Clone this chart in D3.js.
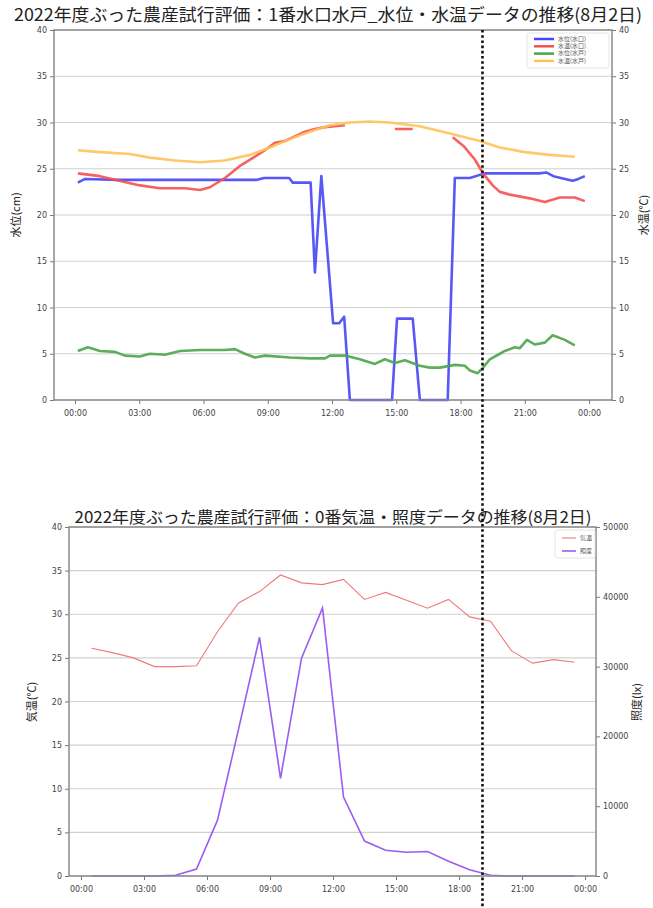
<!DOCTYPE html>
<html>
<head>
<meta charset="utf-8">
<script src="https://cdn.jsdelivr.net/npm/d3@7"></script>
<style>
body { margin: 0; background: #fff; }
svg { display: block; }
</style>
</head>
<body>
<div id="chart"></div>
<script>
// ---- data ----
var topTitle = '2022年度ぶった農産試行評価：1番水口水戸_水位・水温データの推移(8月2日)';
var bottomTitle = '2022年度ぶった農産試行評価：0番気温・照度データの推移(8月2日)';
var topLegend = ['水位(水口)', '水温(水口)', '水位(水戸)', '水温(水戸)'];
var bottomLegend = ['気温', '照度'];
var yTicks = [0, 5, 10, 15, 20, 25, 30, 35, 40];
var luxTicks = [0, 10000, 20000, 30000, 40000, 50000];
var markerTime = '19:00';

// 水位(水口) - blue
var levelInTimes = ['00:08', '00:28', '02:00', '05:00', '08:30', '08:50', '10:00', '10:10', '11:00', '11:12', '11:30', '12:03', '12:20', '12:34', '12:50', '14:48', '15:02', '15:46', '16:06', '17:24', '17:44', '18:26', '19:08', '21:40', '22:00', '22:20', '23:14', '23:30', '23:48'];
var levelInValues = [23.5, 23.9, 23.8, 23.8, 23.8, 24.0, 24.0, 23.5, 23.5, 13.8, 24.2, 8.3, 8.3, 9.0, 0, 0, 8.8, 8.8, 0, 0, 24.0, 24.0, 24.5, 24.5, 24.6, 24.2, 23.7, 23.9, 24.2];

// 水温(水口) - red (null = missing)
var tempInTimes = ['00:08', '01:10', '01:52', '03:02', '03:58', '05:08', '05:50', '06:18', '07:00', '07:42', '08:24', '08:52', '09:20', '09:48', '10:16', '10:44', '11:12', '11:40', '12:36', '12:40', '14:56', '15:46', '15:50', '17:38', '18:10', '18:40', '19:03', '19:30', '19:50', '20:18', '21:14', '21:56', '22:38', '23:20', '23:48'];
var tempInValues = [24.5, 24.2, 23.8, 23.2, 22.9, 22.9, 22.7, 23.0, 24.0, 25.3, 26.3, 27.0, 27.8, 28.0, 28.5, 29.0, 29.3, 29.5, 29.7, null, 29.3, 29.3, null, 28.4, 27.4, 26.0, 24.5, 23.2, 22.5, 22.2, 21.8, 21.4, 21.9, 21.9, 21.5];

// 水位(水戸) - green
var levelOutTimes = ['00:08', '00:36', '01:10', '01:52', '02:20', '03:02', '03:30', '04:12', '04:54', '05:50', '07:00', '07:28', '07:56', '08:24', '08:52', '10:02', '10:58', '11:40', '11:54', '12:36', '13:18', '14:00', '14:28', '14:56', '15:24', '16:06', '16:34', '17:02', '17:44', '18:12', '18:26', '18:48', '19:03', '19:22', '19:50', '20:04', '20:32', '20:46', '21:06', '21:28', '21:56', '22:18', '22:52', '23:20'];
var levelOutValues = [5.3, 5.7, 5.3, 5.2, 4.8, 4.7, 5.0, 4.9, 5.3, 5.4, 5.4, 5.5, 5.0, 4.6, 4.8, 4.6, 4.5, 4.5, 4.8, 4.8, 4.4, 3.9, 4.4, 4.0, 4.3, 3.7, 3.5, 3.5, 3.8, 3.7, 3.2, 2.9, 3.5, 4.4, 5.0, 5.3, 5.7, 5.6, 6.5, 6.0, 6.2, 7.0, 6.5, 5.9];

// 水温(水戸) - orange
var tempOutTimes = ['00:08', '01:10', '02:34', '03:30', '04:40', '05:50', '07:00', '08:10', '09:06', '10:02', '10:58', '11:54', '12:50', '13:46', '14:42', '16:06', '17:30', '18:54', '19:50', '21:00', '22:10', '23:20'];
var tempOutValues = [27.0, 26.8, 26.6, 26.2, 25.9, 25.7, 25.9, 26.5, 27.3, 28.2, 29.0, 29.7, 30.0, 30.1, 30.0, 29.6, 28.8, 28.0, 27.3, 26.8, 26.5, 26.3];

// 気温 / 照度 (hourly)
var airTimes = ['00:30', '01:30', '02:30', '03:30', '04:30', '05:30', '06:30', '07:30', '08:30', '09:30', '10:30', '11:30', '12:30', '13:30', '14:30', '15:30', '16:30', '17:30', '18:30', '19:30', '20:30', '21:30', '22:30', '23:30'];
var airTemp = [26.1, 25.6, 25.0, 24.0, 24.0, 24.1, 28.0, 31.3, 32.6, 34.5, 33.6, 33.4, 34.0, 31.7, 32.5, 31.6, 30.7, 31.7, 29.7, 29.2, 25.8, 24.4, 24.8, 24.5];
var lux = [0, 0, 0, 0, 100, 1000, 8000, 21000, 34200, 14000, 31200, 38400, 11300, 5000, 3700, 3400, 3500, 2100, 900, 100, 0, 0, 0, 0];

// ---- drawing ----
var W = 653, H = 908;
var parseTime = d3.timeParse('%H:%M');
var fontCJK = '"Noto Sans CJK JP", "Noto Sans", sans-serif';
var fontTick = '"DejaVu Sans", sans-serif';

var svg = d3.select('#chart').append('svg').attr('width', W).attr('height', H);
svg.append('rect').attr('width', W).attr('height', H).attr('fill', '#fff');

function hoursFrom(h) {
    return new Date(parseTime('00:00').getTime() + h * 3600000);
}

function toPoints(times, values) {
    return times.map(function (t, i) { return { t: parseTime(t), v: values[i] }; });
}

function drawFrame(g, x, y, box) {
    // gridlines
    g.append('g').selectAll('line').data(yTicks).enter().append('line')
        .attr('x1', box.left).attr('x2', box.right)
        .attr('y1', function (d) { return y(d); }).attr('y2', function (d) { return y(d); })
        .attr('stroke', '#d0d0d0').attr('stroke-width', 1.2);

    var ax = g.append('g').attr('transform', 'translate(0,' + box.bottom + ')')
        .call(d3.axisBottom(x).ticks(d3.timeHour.every(3)).tickFormat(d3.timeFormat('%H:%M')).tickSize(4).tickSizeOuter(0));
    var ay = g.append('g').attr('transform', 'translate(' + box.left + ',0)')
        .call(d3.axisLeft(y).tickValues(yTicks).tickSize(4).tickSizeOuter(0));
    [ax, ay].forEach(function (a) {
        a.select('.domain').remove();
        a.selectAll('line').attr('stroke', '#777');
        a.selectAll('text').attr('fill', '#444').style('font-family', fontTick).style('font-size', '8px');
    });
    ax.selectAll('text').attr('dy', '1.1em');
    return box;
}

function drawBorder(g, box) {
    g.append('rect')
        .attr('x', box.left).attr('y', box.top)
        .attr('width', box.right - box.left).attr('height', box.bottom - box.top)
        .attr('fill', 'none').attr('stroke', '#8a8a8a').attr('stroke-width', 1.5);
}

function drawRightAxis(g, scale, ticks, box, fmt) {
    var a = g.append('g').attr('transform', 'translate(' + box.right + ',0)')
        .call(d3.axisRight(scale).tickValues(ticks).tickFormat(fmt).tickSize(4).tickSizeOuter(0));
    a.select('.domain').remove();
    a.selectAll('line').attr('stroke', '#777');
    a.selectAll('text').attr('fill', '#444').style('font-family', fontTick).style('font-size', '8px');
}

function yLabel(g, text, x, y) {
    g.append('text').attr('transform', 'translate(' + x + ',' + y + ') rotate(-90)')
        .attr('text-anchor', 'middle').attr('dominant-baseline', 'middle')
        .style('font-family', fontCJK).style('font-size', '11px').attr('fill', '#222')
        .text(text);
}

function title(g, text, cx, y, width, size) {
    g.append('text').attr('x', cx).attr('y', y).attr('text-anchor', 'middle')
        .attr('textLength', width).attr('lengthAdjust', 'spacingAndGlyphs')
        .style('font-family', fontCJK).style('font-size', size + 'px').attr('fill', '#222')
        .text(text);
}

function legend(g, items, colors, widths, box) {
    var lg = g.append('g');
    lg.append('rect').attr('x', box.x).attr('y', box.y).attr('width', box.w).attr('height', box.h)
        .attr('rx', 2).attr('fill', '#fff').attr('stroke', '#ddd').attr('stroke-width', 0.8);
    items.forEach(function (txt, i) {
        var yy = box.y + box.pad + i * box.step;
        lg.append('line').attr('x1', box.x + 7).attr('x2', box.x + 7 + box.line).attr('y1', yy).attr('y2', yy)
            .attr('stroke', colors[i]).attr('stroke-width', widths[i]);
        lg.append('text').attr('x', box.x + 11 + box.line).attr('y', yy).attr('dominant-baseline', 'middle')
            .style('font-family', fontCJK).style('font-size', '6px').attr('fill', '#555').text(txt);
    });
}

// ---- top chart ----
var topBox = { left: 54, right: 612, top: 30, bottom: 400 };
var xTop = d3.scaleTime().domain([hoursFrom(-0.98), hoursFrom(25.07)]).range([topBox.left, topBox.right]);
var yTop = d3.scaleLinear().domain([0, 40]).range([topBox.bottom, topBox.top]);
var gTop = svg.append('g');
drawFrame(gTop, xTop, yTop, topBox);
drawRightAxis(gTop, yTop, yTicks, topBox, d3.format('d'));

var lineTop = d3.line().defined(function (d) { return d.v != null; })
    .x(function (d) { return xTop(d.t); }).y(function (d) { return yTop(d.v); });

var topSeries = [
    { pts: toPoints(levelInTimes, levelInValues), color: '#4646f5' },
    { pts: toPoints(tempInTimes, tempInValues), color: '#f55050' },
    { pts: toPoints(levelOutTimes, levelOutValues), color: '#4aa54a' },
    { pts: toPoints(tempOutTimes, tempOutValues), color: '#ffc25a' }
];
topSeries.forEach(function (s) {
    gTop.append('path').datum(s.pts).attr('d', lineTop)
        .attr('fill', 'none').attr('stroke', s.color).attr('stroke-width', 2.6)
        .attr('stroke-linejoin', 'round').attr('stroke-opacity', 0.9);
});
drawBorder(gTop, topBox);
legend(gTop, topLegend, topSeries.map(function (s) { return s.color; }), [2.5, 2.5, 2.5, 2.5],
    { x: 527, y: 33, w: 82, h: 35, pad: 6, step: 7.3, line: 20 });
title(gTop, topTitle, 328, 21, 628, 17);
yLabel(gTop, '水位(cm)', 17, 215);
yLabel(gTop, '水温(℃)', 645, 215);

// ---- bottom chart ----
var botBox = { left: 69, right: 596, top: 527, bottom: 876 };
var xBot = d3.scaleTime().domain([hoursFrom(-0.57), hoursFrom(24.52)]).range([botBox.left, botBox.right]);
var yBot = d3.scaleLinear().domain([0, 40]).range([botBox.bottom, botBox.top]);
var yLux = d3.scaleLinear().domain([0, 50000]).range([botBox.bottom, botBox.top]);
var gBot = svg.append('g');
drawFrame(gBot, xBot, yBot, botBox);
drawRightAxis(gBot, yLux, luxTicks, botBox, d3.format('d'));

var airPts = toPoints(airTimes, airTemp);
var luxPts = toPoints(airTimes, lux);
gBot.append('path').datum(airPts)
    .attr('d', d3.line().x(function (d) { return xBot(d.t); }).y(function (d) { return yBot(d.v); }))
    .attr('fill', 'none').attr('stroke', '#f07a7a').attr('stroke-width', 1.1);
gBot.append('path').datum(luxPts)
    .attr('d', d3.line().x(function (d) { return xBot(d.t); }).y(function (d) { return yLux(d.v); }))
    .attr('fill', 'none').attr('stroke', '#9b5cf0').attr('stroke-width', 1.6);
drawBorder(gBot, botBox);
legend(gBot, bottomLegend, ['#f07a7a', '#9b5cf0'], [1.1, 1.6],
    { x: 555, y: 530, w: 40, h: 28, pad: 8, step: 13, line: 14 });
title(gBot, bottomTitle, 333, 523, 517, 16);
yLabel(gBot, '気温(℃)', 33, 702);
yLabel(gBot, '照度(lx)', 638, 702);

// ---- vertical dotted marker across both charts ----
var mx = xTop(parseTime(markerTime)) + 0.5;
svg.append('line').attr('x1', mx).attr('x2', mx).attr('y1', topBox.top).attr('y2', H)
    .attr('stroke', '#111').attr('stroke-width', 2.6).attr('stroke-dasharray', '2.6,2.6');
</script>
</body>
</html>
